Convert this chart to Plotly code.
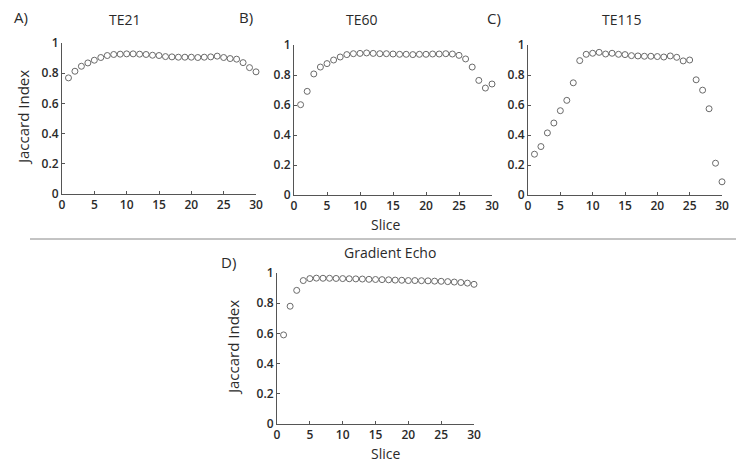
import plotly.graph_objects as go

W, H = 744, 465
OFF = 8  # default page body margin shifts the figure by 8 px

slices = list(range(1, 31))

te21 = [0.769, 0.813, 0.846, 0.868, 0.886, 0.904, 0.917, 0.924, 0.926, 0.928,
        0.928, 0.926, 0.924, 0.919, 0.917, 0.910, 0.908, 0.906, 0.906, 0.906,
        0.904, 0.906, 0.908, 0.913, 0.904, 0.897, 0.893, 0.870, 0.837, 0.809]

te60 = [0.602, 0.691, 0.807, 0.853, 0.876, 0.900, 0.920, 0.936, 0.942, 0.944,
        0.947, 0.944, 0.942, 0.942, 0.940, 0.938, 0.938, 0.936, 0.938, 0.938,
        0.940, 0.940, 0.942, 0.940, 0.931, 0.907, 0.853, 0.764, 0.713, 0.740]

te115 = [0.272, 0.323, 0.414, 0.480, 0.562, 0.631, 0.748, 0.896, 0.938, 0.945,
         0.951, 0.940, 0.945, 0.938, 0.936, 0.929, 0.927, 0.925, 0.925, 0.923,
         0.920, 0.927, 0.918, 0.894, 0.900, 0.768, 0.699, 0.575, 0.212, 0.088]

gradient_echo = [0.590, 0.780, 0.885, 0.950, 0.963, 0.966, 0.965, 0.965, 0.964, 0.963,
                 0.962, 0.961, 0.960, 0.958, 0.957, 0.956, 0.955, 0.953, 0.952, 0.950,
                 0.950, 0.949, 0.948, 0.946, 0.945, 0.943, 0.940, 0.937, 0.933, 0.925]

panel_titles = ["TE21", "TE60", "TE115", "Gradient Echo"]
panel_letters = ["A)", "B)", "C)", "D)"]
x_ticks = [0, 5, 10, 15, 20, 25, 30]
y_ticks = [0, 0.2, 0.4, 0.6, 0.8, 1]
y_tick_text = ["0", "0.2", "0.4", "0.6", "0.8", "1"]

# pixel boxes of each plot area: (left, right, top, bottom)
boxes = [(62, 256, 43, 194), (294, 492, 45, 195), (528, 722, 45, 195), (277, 474, 273, 424)]


def px(x):
    return (x - OFF) / W


def py(y):
    return 1 - (y - OFF) / H


FONT = "Open Sans"
GREY = "#6a6a6a"
TXT = "#2a2a2a"

fig = go.Figure()
series = [te21, te60, te115, gradient_echo]
for i, (vals, box) in enumerate(zip(series, boxes)):
    n = "" if i == 0 else str(i + 1)
    fig.add_trace(go.Scatter(
        x=slices, y=vals, mode="markers", xaxis="x" + n, yaxis="y" + n,
        marker=dict(symbol="circle-open", size=6, color=GREY, line=dict(width=1, color=GREY)),
        cliponaxis=False, showlegend=False, hoverinfo="x+y"))
    l, r, t, b = box
    axis_common = dict(showline=True, linecolor="#555555", linewidth=1, ticks="inside",
                       ticklen=3, tickcolor="#555555", showgrid=False, zeroline=False,
                       automargin=False,
                       tickfont=dict(family=FONT, size=12, color=TXT, weight=600))
    fig.layout["xaxis" + n] = dict(domain=[px(l), px(r)], range=[0, 30], anchor="y" + n,
                                   tickvals=x_ticks, **axis_common)
    fig.layout["yaxis" + n] = dict(domain=[py(b), py(t)], range=[0, 1], anchor="x" + n,
                                   tickvals=y_ticks, ticktext=y_tick_text, **axis_common)


def label(text, x, y, size, angle=0, weight=400):
    return dict(text=text, x=px(x), y=py(y), xref="paper", yref="paper", showarrow=False,
                xanchor="center", yanchor="middle", textangle=angle,
                font=dict(family=FONT, size=size, color=TXT, weight=weight))


annotations = []
title_pos = [(125, 20), (362, 19), (622, 19), (390, 252)]
letter_pos = [(21, 17), (246, 17), (494, 18), (228, 262)]
for i in range(4):
    annotations.append(label(panel_titles[i], *title_pos[i], 14, weight=500))
    annotations.append(label(panel_letters[i], *letter_pos[i], 15))

for (x, y) in [(23, 118), (233, 348)]:
    annotations.append(label("Jaccard Index", x, y, 15, -90))
for (x, y) in [(385, 224), (385, 453)]:
    annotations.append(label("Slice", x, y, 14))

fig.update_layout(
    width=W, height=H, margin=dict(l=0, r=0, t=0, b=0),
    paper_bgcolor="white", plot_bgcolor="white",
    annotations=annotations,
    shapes=[dict(type="line", xref="paper", yref="paper", x0=px(30), x1=px(760),
                 y0=py(239), y1=py(239), line=dict(color="#888888", width=1))],
)

fig.write_html("out.html")
